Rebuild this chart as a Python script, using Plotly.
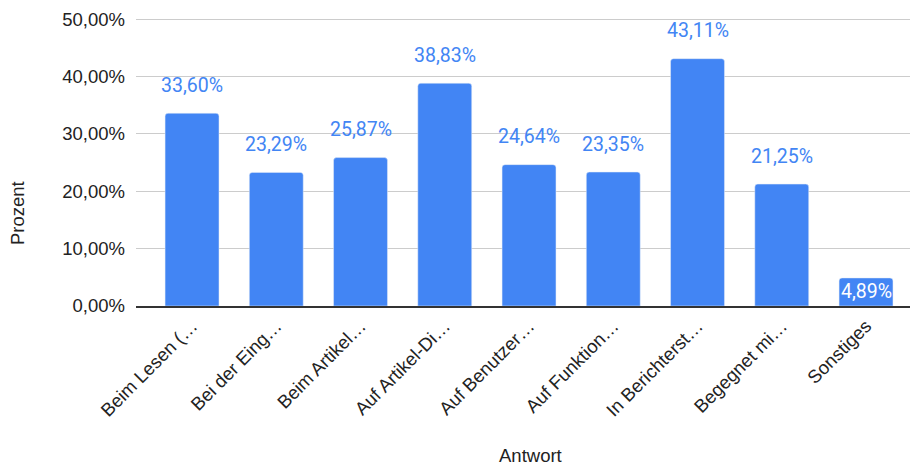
import plotly.graph_objects as go

categories = ["Beim Lesen (…", "Bei der Eing…", "Beim Artikel…", "Auf Artikel-Di…",
              "Auf Benutzer…", "Auf Funktion…", "In Berichterst…", "Begegnet mi…", "Sonstiges"]
values = [33.60, 23.29, 25.87, 38.83, 24.64, 23.35, 43.11, 21.25, 4.89]
label_inside = [False, False, False, False, False, False, False, False, True]
y_ticks = [0, 10, 20, 30, 40, 50]
y_tick_labels = ["0,00%", "10,00%", "20,00%", "30,00%", "40,00%", "50,00%"]

OFF = 8  # page body margin
W, H = 918 - OFF, 465 - OFF
L, R, T = 136 - OFF, 0, 18 - OFF
B = H - (306 - OFF)
BLUE = "#4285F4"
FS = 19.5
AFS = 18.5


def px_x(x):
    return (x - OFF - L) / (W - L - R)


def px_y(y):
    return (H - B - (y - OFF)) / (H - T - B)


fig = go.Figure(go.Bar(x=categories, y=values, marker_color=BLUE, width=0.64,
                       hoverinfo="skip"))


def fmt(v):
    return f"{v:.2f}".replace(".", ",") + "%"


for c, v, inside in zip(categories, values, label_inside):
    fig.add_annotation(x=c, y=v, text=fmt(v), showarrow=False,
                       yanchor="middle", yshift=-14 if inside else 28,
                       font=dict(family="Roboto", size=FS,
                                 color="white" if inside else BLUE))

fig.add_annotation(xref="paper", yref="paper", x=px_x(530), y=px_y(455),
                   text="Antwort", showarrow=False,
                   xanchor="center", yanchor="middle",
                   font=dict(family="Liberation Sans", size=AFS, color="#222"))
fig.add_annotation(xref="paper", yref="paper", x=px_x(18), y=px_y(213),
                   text="Prozent", showarrow=False,
                   textangle=-90, xanchor="center", yanchor="middle",
                   font=dict(family="Liberation Sans", size=AFS, color="#222"))

fig.update_layout(
    width=W, height=H, margin=dict(l=L, r=R, t=T, b=B),
    plot_bgcolor="white", paper_bgcolor="white",
    barcornerradius=3, showlegend=False,
    font=dict(family="Liberation Sans", size=AFS, color="#222"),
)
fig.update_xaxes(range=[-0.665, 8.617], tickangle=-45, showgrid=False,
                 showline=True, linecolor="#333", linewidth=2,
                 ticks="", tickfont=dict(size=AFS, color="#222"), automargin=False)
fig.update_yaxes(range=[0, 50.2], tickvals=y_ticks, ticktext=y_tick_labels,
                 showgrid=True, gridcolor="#cccccc", gridwidth=1, zeroline=False,
                 ticks="", ticklabelstandoff=10, tickfont=dict(size=AFS, color="#222"),
                 automargin=False)

fig.write_html("out.html")
